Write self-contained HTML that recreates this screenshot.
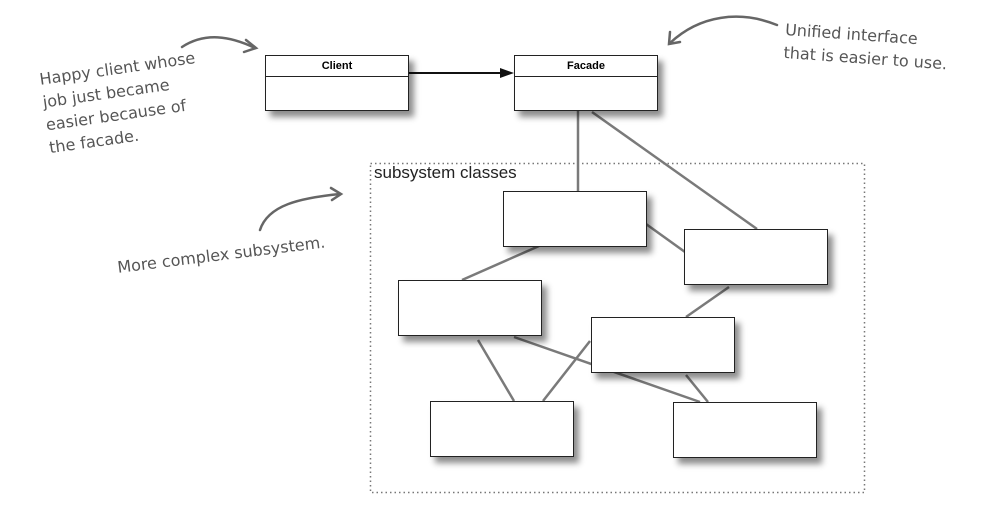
<!DOCTYPE html>
<html><head><meta charset="utf-8"><style>
body{margin:0;background:#fff;width:987px;height:512px;overflow:hidden;position:relative;font-family:"Liberation Sans",sans-serif}
.b{position:absolute;background:#fff;border:1.5px solid #222;box-sizing:border-box;box-shadow:5px 6px 6px rgba(0,0,0,.45)}
.h{position:absolute;color:#555;font-family:"Comic Sans MS","DejaVu Sans",sans-serif;font-size:16px;line-height:23px}
</style></head><body>
<svg width="987" height="512" style="position:absolute;left:0;top:0">
<rect x="370.5" y="163.5" width="494" height="329" fill="none" stroke="#777" stroke-dasharray="1.5,3" stroke-width="1.5"/>
<g stroke="#7a7a7a" stroke-width="2.5">
<line x1="578" y1="110" x2="578" y2="191"/>
<line x1="592" y1="112" x2="757" y2="229"/>
<line x1="646" y1="224" x2="685" y2="252"/>
<line x1="539" y1="246" x2="462" y2="280"/>
<line x1="729" y1="287" x2="686" y2="317"/>
<line x1="478" y1="340" x2="514" y2="401"/>
<line x1="514" y1="337" x2="700" y2="402"/>
<line x1="590" y1="341" x2="543" y2="401"/>
<line x1="686" y1="375" x2="708" y2="402"/>
</g>
<line x1="408" y1="73" x2="500" y2="73" stroke="#111" stroke-width="2"/>
<polygon points="514,73 500,68 500,78" fill="#111"/>
<g fill="none" stroke="#666" stroke-width="2.5" stroke-linecap="round">
<path d="M182,47 C205,32 230,36 255,48"/><path d="M246,40 L256,48 L244,52"/>
<path d="M260,230 C268,205 300,198 340,194"/><path d="M331,188 L341,194 L332,200"/>
<path d="M777,25 C740,10 700,15 670,43"/><path d="M670,32 L669,44 L680,42"/>
</g>
</svg>
<div class="b" style="left:265px;top:55px;width:144px;height:56px"><div style="height:20px;border-bottom:1.5px solid #222;text-align:center;font-size:11px;font-weight:bold;line-height:20px">Client</div></div>
<div class="b" style="left:514px;top:55px;width:144px;height:56px"><div style="height:20px;border-bottom:1.5px solid #222;text-align:center;font-size:11px;font-weight:bold;line-height:20px">Facade</div></div>
<div style="position:absolute;left:374px;top:163px;font-size:17px;color:#222">subsystem classes</div>
<div class="b" style="left:503px;top:191px;width:144px;height:56px"></div>
<div class="b" style="left:684px;top:229px;width:144px;height:56px"></div>
<div class="b" style="left:398px;top:280px;width:144px;height:56px"></div>
<div class="b" style="left:591px;top:317px;width:144px;height:56px"></div>
<div class="b" style="left:430px;top:401px;width:144px;height:56px"></div>
<div class="b" style="left:673px;top:402px;width:144px;height:56px"></div>
<div class="h" style="left:38px;top:68px;transform:rotate(-8deg);transform-origin:0 0">Happy client whose<br>job just became<br>easier because of<br>the facade.</div>
<div class="h" style="left:116px;top:256px;transform:rotate(-7deg);transform-origin:0 0">More complex subsystem.</div>
<div class="h" style="left:786px;top:18px;transform:rotate(4deg);transform-origin:0 0">Unified interface<br>that is easier to use.</div>
</body></html>
